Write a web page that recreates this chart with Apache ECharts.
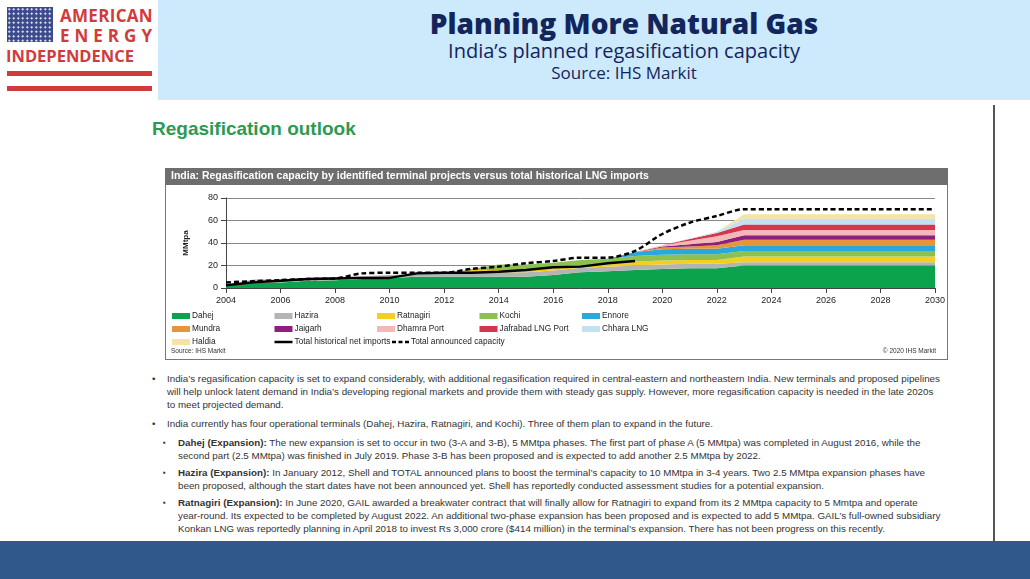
<!DOCTYPE html>
<html>
<head>
<meta charset="utf-8">
<script src="https://cdn.jsdelivr.net/npm/echarts@6/dist/echarts.min.js"></script>
<style>
body{margin:0;width:1030px;height:579px;position:relative;overflow:hidden;background:#fff;font-family:"Liberation Sans",Arial,sans-serif}
.abs{position:absolute}
#hdr{left:158px;top:0;width:872px;height:100px;background:#cde9fc;text-align:center;color:#13265c;font-family:"Open Sans",sans-serif}
#hdr .t{font-size:28px;font-weight:800;margin-top:6px;padding-left:60px;line-height:34px}
#hdr .s{font-size:20px;line-height:22px;padding-left:60px}
#hdr .s2{font-size:17px;line-height:21px;padding-left:60px}
.logo{color:#d23b3b;font-family:"Open Sans",sans-serif;font-weight:bold}
#txt{left:152px;top:372px;width:790px;font-size:9.8px;color:#333;line-height:13px}
#txt p{margin:0 0 6px 0;position:relative;padding-left:15px}
#txt p:before{content:"•";position:absolute;left:0}
#txt p.sub{padding-left:26px;margin-bottom:4px}
#txt p.sub:before{content:"▪";left:11px;font-size:8px}
</style>
</head>
<body>
<div id="hdr" class="abs"><div class="t">Planning More Natural Gas</div><div class="s">India’s planned regasification capacity</div><div class="s2">Source: IHS Markit</div></div>
<div class="abs" style="left:7px;top:7px;width:46px;height:35px;background:#3b4a8c;background-image:radial-gradient(#fff 0.8px,transparent 1.2px);background-size:4.5px 4.5px"></div>
<div class="abs logo" style="left:60px;top:4px;font-size:17px;letter-spacing:0.3px">AMERICAN</div>
<div class="abs logo" style="left:60px;top:24px;font-size:17px;letter-spacing:5px">ENERGY</div>
<div class="abs logo" style="left:6px;top:44px;font-size:16.5px">INDEPENDENCE</div>
<div class="abs" style="left:7px;top:71px;width:145px;height:5px;background:#d23b3b"></div>
<div class="abs" style="left:7px;top:86px;width:145px;height:5px;background:#d23b3b"></div>
<div class="abs" style="left:152px;top:118px;font-size:19px;font-weight:bold;color:#2e9a4f">Regasification outlook</div>
<div class="abs" style="left:993px;top:105px;width:2px;height:436px;background:#555"></div>
<div class="abs" style="left:0;top:541px;width:1030px;height:38px;background:#30598a"></div>
<div class="abs" style="left:165px;top:168px;width:781px;height:190px;border:1px solid #777"></div>
<div id="main" class="abs" style="left:165px;top:168px;width:783px;height:192px"></div>
<div id="txt" class="abs">
<p>India’s regasification capacity is set to expand considerably, with additional regasification required in central-eastern and northeastern India. New terminals and proposed pipelines will help unlock latent demand in India’s developing regional markets and provide them with steady gas supply. However, more regasification capacity is needed in the late 2020s to meet projected demand.</p>
<p>India currently has four operational terminals (Dahej, Hazira, Ratnagiri, and Kochi). Three of them plan to expand in the future.</p>
<p class="sub"><b>Dahej (Expansion):</b> The new expansion is set to occur in two (3-A and 3-B), 5 MMtpa phases. The first part of phase A (5 MMtpa) was completed in August 2016, while the second part (2.5 MMtpa) was finished in July 2019. Phase 3-B has been proposed and is expected to add another 2.5 MMtpa by 2022.</p>
<p class="sub"><b>Hazira (Expansion):</b> In January 2012, Shell and TOTAL announced plans to boost the terminal’s capacity to 10 MMtpa in 3-4 years. Two 2.5 MMtpa expansion phases have been proposed, although the start dates have not been announced yet. Shell has reportedly conducted assessment studies for a potential expansion.</p>
<p class="sub"><b>Ratnagiri (Expansion):</b> In June 2020, GAIL awarded a breakwater contract that will finally allow for Ratnagiri to expand from its 2 MMtpa capacity to 5 Mmtpa and operate year-round. Its expected to be completed by August 2022. An additional two-phase expansion has been proposed and is expected to add 5 MMtpa. GAIL’s full-owned subsidiary Konkan LNG was reportedly planning in April 2018 to invest Rs 3,000 crore ($414 million) in the terminal’s expansion. There has not been progress on this recently.</p>
</div>
<script type="text/javascript">
var years = [];
for (var y = 2004; y <= 2030; y++) years.push(String(y));
//            04  05  06  07  08  09 10 11 12 13 14 15 16   17 18 19 20 21   22   23..30
var dahej    = [2.5,5,5,6.5,7,8,9,10,10,10,10,10,11.5,14,15,16,17,17.5,17.5,20,20,20,20,20,20,20,20];
var hazira   = [0,2.5,2.5,2.5,2.5,2.5,2.5,2.5,2.5,4,4,4,4,4,4,4,4,4,4,3,3,3,3,3,3,3,3];
var ratnagiri= [0,0,0,0,0,0,0,0,0,2,2,2,2,2,2,3.5,3.5,3.5,3.5,5,5,5,5,5,5,5,5];
var kochi    = [0,0,0,0,0,0,0,0,0,1,5,5,5,5,5,5,5,5,5,5,5,5,5,5,5,5,5];
var ennore   = [0,0,0,0,0,0,0,0,0,0,0,0,0,0,0,3.5,5,5,5,5,5,5,5,5,5,5,5];
var mundra   = [0,0,0,0,0,0,0,0,0,0,0,0,0,0,0,0,1.5,2,3,5,5,5,5,5,5,5,5];
var jaigarh  = [0,0,0,0,0,0,0,0,0,0,0,0,0,0,0,0,1,2,3,4,4,4,4,4,4,4,4];
var dhamra   = [0,0,0,0,0,0,0,0,0,0,0,0,0,0,0,0,1,3,5,4.5,4.5,4.5,4.5,4.5,4.5,4.5,4.5];
var jafrabad = [0,0,0,0,0,0,0,0,0,0,0,0,0,0,0,0,0,1.5,3,5,5,5,5,5,5,5,5];
var chhara   = [0,0,0,0,0,0,0,0,0,0,0,0,0,0,0,0,0,0.5,1,5,5,5,5,5,5,5,5];
var haldia   = [0,0,0,0,0,0,0,0,0,0,0,0,0,0,0,0,0,0,0,4,4,4,4,4,4,4,4];
var historical = [2.5,5,6.5,8,8.5,9,9,13,13.5,13.5,14.5,16,18.5,19,22,24];
var announced = [5,6,7,8,8.5,13,13.5,13.5,13.5,17,19,22,24,27,27,33,48,58,64,70,70,70,70,70,70,70,70];

var areas = [
    ['Dahej', dahej, '#0ba34c'], ['Hazira', hazira, '#b4b4b4'], ['Ratnagiri', ratnagiri, '#f3cf22'],
    ['Kochi', kochi, '#8cc152'], ['Ennore', ennore, '#29a8d9'], ['Mundra', mundra, '#e8943a'],
    ['Jaigarh', jaigarh, '#8e1f7e'], ['Dhamra Port', dhamra, '#f4b8b6'], ['Jafrabad LNG Port', jafrabad, '#d7344f'],
    ['Chhara LNG', chhara, '#c2e2f1'], ['Haldia', haldia, '#f6e4a6']
];
var series = areas.map(function (a) {
    return {name: a[0], type: 'line', stack: 'cap', data: a[1], symbol: 'none',
        lineStyle: {width: 0}, areaStyle: {color: a[2], opacity: 1}, itemStyle: {color: a[2]}};
});
series.push({name: 'Total historical net imports', type: 'line', data: historical, symbol: 'none',
    lineStyle: {color: '#000', width: 2.5}, itemStyle: {color: '#000'}, z: 5});
series.push({name: 'Total announced capacity', type: 'line', data: announced, symbol: 'none', smooth: 0.3,
    lineStyle: {color: '#000', width: 2.5, type: [5, 3]}, itemStyle: {color: '#000'}, z: 5});

// legend as graphic, laid out like the 5-column key of the original
var legendRows = [
    ['Dahej', 'Hazira', 'Ratnagiri', 'Kochi', 'Ennore'],
    ['Mundra', 'Jaigarh', 'Dhamra Port', 'Jafrabad LNG Port', 'Chhara LNG'],
    ['Haldia', 'Total historical net imports', 'Total announced capacity']
];
var colorOf = {};
areas.forEach(function (a) { colorOf[a[0]] = a[2]; });
var legendGraphic = [];
legendRows.forEach(function (row, r) {
    row.forEach(function (name, c) {
        var x = 7 + c * 102.5, y = 148 + r * 13;
        if (r === 2 && c === 2) x += 14;
        var icon;
        if (name === 'Total historical net imports') {
            icon = {type: 'line', shape: {x1: x, y1: y, x2: x + 18, y2: y}, style: {stroke: '#000', lineWidth: 2.5}};
        } else if (name === 'Total announced capacity') {
            icon = {type: 'line', shape: {x1: x + 1, y1: y, x2: x + 18, y2: y}, style: {stroke: '#000', lineWidth: 2.5, lineDash: [4, 2.5]}};
        } else {
            icon = {type: 'rect', shape: {x: x, y: y - 3, width: 18, height: 6}, style: {fill: colorOf[name]}};
        }
        legendGraphic.push(icon);
        legendGraphic.push({type: 'text', x: x + 20, y: y,
            style: {text: name, fill: '#222', fontSize: 8.3, fontFamily: 'Liberation Sans', verticalAlign: 'middle'}});
    });
});

var myChart = echarts.init(document.getElementById('main'));
var option = {
    animation: false,
    textStyle: {fontFamily: 'Liberation Sans'},
    graphic: [
        {type: 'rect', left: 0, top: 0, shape: {width: 783, height: 17}, style: {fill: '#6e6e6e'}},
        {type: 'text', left: 6, top: 3, style: {text: 'India: Regasification capacity by identified terminal projects versus total historical LNG imports', fill: '#fff', font: 'bold 10.5px Liberation Sans'}},
        {type: 'text', left: 6, top: 180, style: {text: 'Source: IHS Markit', fill: '#333', font: '6.5px Liberation Sans'}},
        {type: 'text', right: 12, top: 180, style: {text: '© 2020 IHS Markit', fill: '#333', font: '6.5px Liberation Sans'}}
    ].concat(legendGraphic),
    grid: {left: 61, right: 13, top: 30, bottom: 72},
    xAxis: {type: 'category', data: years, boundaryGap: false,
        axisLine: {lineStyle: {color: '#444'}}, axisTick: {alignWithLabel: true, lineStyle: {color: '#444'}},
        axisLabel: {interval: 1, fontSize: 9, color: '#222'}},
    yAxis: {type: 'value', min: 0, max: 80, interval: 20, name: 'MMtpa', nameLocation: 'middle', nameGap: 36,
        nameTextStyle: {fontSize: 8, fontWeight: 'bold', color: '#222'},
        axisLine: {show: true, lineStyle: {color: '#444'}}, axisTick: {show: true},
        axisLabel: {fontSize: 9, color: '#222'}, splitLine: {lineStyle: {color: '#888'}}},
    series: series
};
myChart.setOption(option);
</script>
</body>
</html>
